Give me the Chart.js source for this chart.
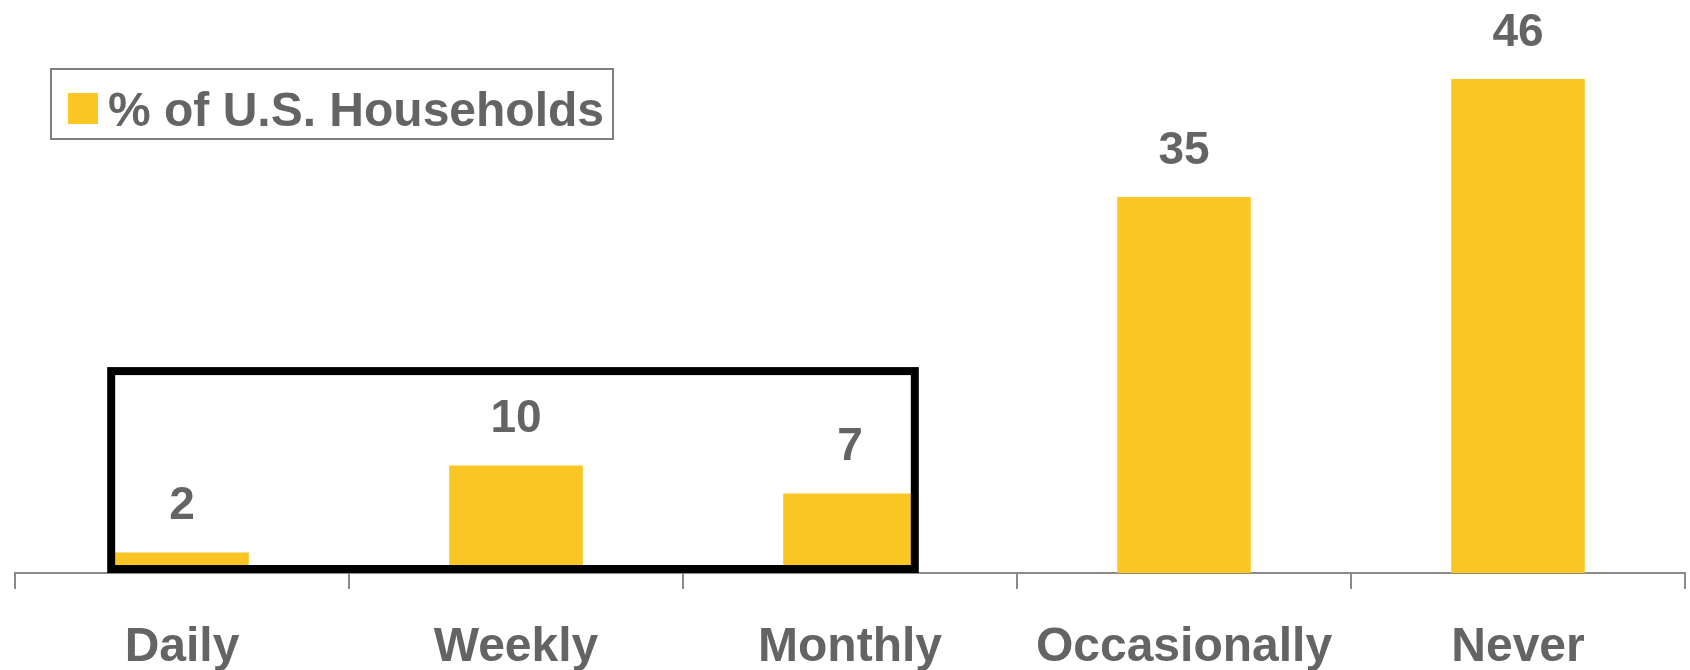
<!DOCTYPE html>
<html>
<head>
<meta charset="utf-8">
<script src="https://cdn.jsdelivr.net/npm/chart.js@4/dist/chart.umd.min.js"></script>
<style>
  html, body { margin: 0; padding: 0; background: #fff; }
  canvas { display: block; }
</style>
</head>
<body>
<canvas id="chart" width="1690" height="670"></canvas>
<script>
// chart data
const categories = ['Daily', 'Weekly', 'Monthly', 'Occasionally', 'Never'];
const households = [1.9, 10, 7.4, 35, 46];
const seriesName = '% of U.S. Households';

const barColor = '#F9C623';
const textColor = '#646464';
const axisColor = '#8a8a8a';
const fontFamily = '"Liberation Sans", Arial, sans-serif';

// value labels above the bars
const valueLabels = {
    id: 'valueLabels',
    afterDatasetsDraw(chart) {
        const ctx = chart.ctx;
        const meta = chart.getDatasetMeta(0);
        ctx.save();
        ctx.fillStyle = textColor;
        ctx.font = 'bold 46px ' + fontFamily;
        ctx.textAlign = 'center';
        ctx.textBaseline = 'middle';
        meta.data.forEach(function (bar, i) {
            ctx.fillText(String(Math.round(households[i])), bar.x, bar.y - 46);
        });
        ctx.restore();
    }
};

// black box around the first three bars
const highlightBox = {
    id: 'highlightBox',
    afterDatasetsDraw(chart) {
        const ctx = chart.ctx;
        const bars = chart.getDatasetMeta(0).data;
        const y = chart.scales.y;
        const x0 = bars[0].x - bars[0].width / 2 - 4;
        const x1 = bars[2].x + bars[2].width / 2 - 2;
        const top = y.getPixelForValue(18.8);
        const bottom = y.getPixelForValue(0) - 4;
        ctx.save();
        ctx.strokeStyle = '#000';
        ctx.lineWidth = 8;
        ctx.strokeRect(x0, top, x1 - x0, bottom - top);
        ctx.restore();
    }
};

// boxed legend in the top left
const boxLegend = {
    id: 'boxLegend',
    afterDraw(chart) {
        const ctx = chart.ctx;
        ctx.save();
        ctx.fillStyle = '#fff';
        ctx.fillRect(51, 69, 562, 70);
        ctx.strokeStyle = '#7f7f7f';
        ctx.lineWidth = 2;
        ctx.strokeRect(51, 69, 562, 70);
        ctx.fillStyle = barColor;
        ctx.fillRect(68, 93, 30, 31);
        ctx.fillStyle = textColor;
        ctx.font = 'bold 48px ' + fontFamily;
        ctx.textAlign = 'left';
        ctx.textBaseline = 'alphabetic';
        ctx.fillText(seriesName, 108, 126);
        ctx.restore();
    }
};

new Chart(document.getElementById('chart'), {
    type: 'bar',
    data: {
        labels: categories,
        datasets: [{
            label: seriesName,
            data: households,
            backgroundColor: barColor,
            barPercentage: 0.4,
            categoryPercentage: 1
        }]
    },
    options: {
        responsive: false,
        animation: false,
        layout: {
            padding: { left: 15, right: 5, top: 36, bottom: 0 }
        },
        plugins: {
            legend: { display: false },
            tooltip: { enabled: false }
        },
        scales: {
            x: {
                grid: {
                    offset: true,
                    drawOnChartArea: false,
                    tickLength: 16,
                    color: axisColor,
                    lineWidth: 2
                },
                border: { color: axisColor, width: 2 },
                ticks: {
                    color: textColor,
                    padding: 30,
                    font: { family: fontFamily, size: 48, weight: 'bold' }
                },
                afterFit(scale) {
                    scale.height = 97;
                }
            },
            y: {
                display: false,
                min: 0,
                max: 50
            }
        }
    },
    plugins: [valueLabels, highlightBox, boxLegend]
});
</script>
</body>
</html>
